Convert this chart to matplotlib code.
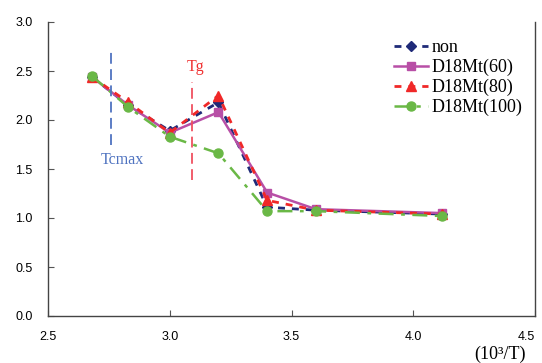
import matplotlib
matplotlib.use("Agg")
import matplotlib.pyplot as plt

x = [2.68, 2.83, 3.0, 3.2, 3.4, 3.6, 4.12]
non = [2.44, 2.15, 1.89, 2.18, 1.11, 1.08, 1.04]
d60 = [2.44, 2.15, 1.87, 2.08, 1.26, 1.09, 1.05]
d80 = [2.44, 2.18, 1.87, 2.25, 1.18, 1.08, 1.04]
d100 = [2.45, 2.13, 1.83, 1.66, 1.07, 1.07, 1.02]
labels = ["non", "D18Mt(60)", "D18Mt(80)", "D18Mt(100)"]

xticks = [2.5, 3.0, 3.5, 4.0, 4.5]
yticks = [0.0, 0.5, 1.0, 1.5, 2.0, 2.5, 3.0]

fig = plt.figure(figsize=(5.42, 3.63), dpi=100)
ax = fig.add_axes([48/542, 1-316/363, (535-48)/542, (316-22)/363])

ax.plot(x, non, color="#1f2a78", ls=(0, (2.5, 2.5)), lw=2, marker="D", ms=5, label=labels[0])
ax.plot(x, d60, color="#b84fa6", ls="-", lw=1.8, marker="s", ms=6, label=labels[1])
ax.plot(x, d80, color="#f02828", ls=(0, (2.5, 2.5)), lw=2, marker="^", ms=7, label=labels[2])
ax.plot(x, d100, color="#6ab846", ls=(0, (6, 3, 1.5, 3)), lw=1.8, marker="o", ms=6.5, label=labels[3])

ax.plot([2.76, 2.76], [1.74, 2.71], color="#4f73c0", ls=(0, (6, 3)), lw=1.3)
ax.plot([3.09, 3.09], [1.39, 2.39], color="#f05060", ls=(0, (6, 3)), lw=1.3)
ax.text(2.715, 1.55, "Tcmax", color="#4f73c0", family="Liberation Serif", fontsize=11.5)
ax.text(3.07, 2.5, "Tg", color="#f03030", family="Liberation Serif", fontsize=11.5)

ax.set_xlim(2.5, 4.5)
ax.set_ylim(0, 3.0)
ax.set_xticks(xticks)
ax.set_yticks(yticks)
xl = ax.set_xticklabels([f"{v:.1f}" for v in xticks], family="Liberation Sans", fontsize=9)
xl[-1].set_horizontalalignment("right")
ax.set_yticklabels([f"{v:.1f}" for v in yticks], family="Liberation Sans", fontsize=9)
ax.tick_params(direction="in", length=4, width=0.8, color="#555555", pad=11)
ax.spines["top"].set_visible(False)
for s in ["left", "bottom", "right"]:
    ax.spines[s].set_color("#444444")
    ax.spines[s].set_linewidth(1.0)

leg = ax.legend(loc="upper right", bbox_to_anchor=(1.0, 0.985), frameon=False,
                prop={"family": "Liberation Serif", "size": 13},
                handlelength=1.9, labelspacing=0.15, borderaxespad=0.3, handletextpad=0.2)

fig.text(500/542, 1-354/363, "(10³/T)", family="Liberation Serif", fontsize=13,
         ha="center", va="center")

fig.savefig("out.png", dpi=100)
